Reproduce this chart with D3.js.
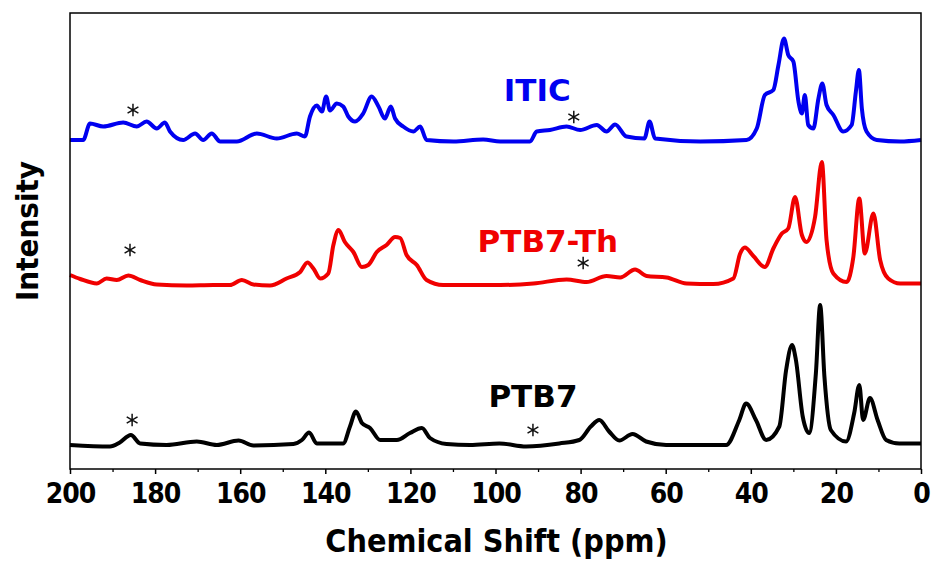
<!DOCTYPE html>
<html>
<head>
<meta charset="utf-8">
<script src="https://cdn.jsdelivr.net/npm/d3@7"></script>
<style>
  body { margin: 0; background: #fff; }
  svg { display: block; }
  .tick text { font-family: "DejaVu Sans Condensed", "DejaVu Sans", sans-serif; font-weight: bold; }
</style>
</head>
<body>
<div id="chart"></div>
<script>
// ppm values (x) and intensity above each trace's own baseline (arbitrary units)
var blueShift = [200, 196.9, 195.3, 192.2, 187.5, 184.3, 182, 179.6, 177.7, 176.5, 173.4, 170.6, 168.7, 166.7, 164.7, 160.8, 156.1, 151.4, 146.7, 144.8, 143.6, 142, 140.8, 139.8, 138.9, 137.3, 135.8, 134.6, 133, 131.1, 129.1, 127.5, 126, 124.6, 123.6, 121.7, 119.3, 117.7, 116.2, 109.9, 102.9, 98.9, 91.9, 90.3, 87.2, 83.3, 80.1, 76.2, 73.9, 71.9, 69.2, 65, 63.8, 62.5, 51.9, 41, 38.6, 36.7, 34.7, 33.5, 32.2, 31.2, 30, 28.8, 28, 27.3, 26.5, 25.3, 24.1, 23.2, 22.2, 20.6, 18.3, 16.3, 15.3, 14.6, 13.9, 12.8, 10.4, 4.9, 0];
var blueInt = [1.5, 1.5, 18, 15, 19, 15, 20, 13, 19, 10, 1.5, 8, 1.5, 8, 0, 0, 8, 3, 8, 5, 25, 36, 30, 45, 31, 38, 35, 25, 20, 28, 45, 35, 23, 35, 23, 15, 10, 15, 1.5, 0, 2, 0, 0, 10, 11.5, 15, 11.5, 16.5, 10, 17, 5, 3, 20, 3, 0, 1.5, 13, 46.5, 51.5, 76.5, 103, 86.5, 80, 40, 28, 46.5, 16.5, 13, 43, 58, 36.5, 26.5, 10, 16.5, 50, 71.5, 33, 10, 1.5, 0, 1.5];

var redShift = [200, 197.6, 193.7, 191.4, 189, 186.3, 183.5, 179.6, 172.6, 166.3, 162.4, 159.6, 156.9, 153, 149.1, 145.9, 144.2, 142.8, 141.2, 139.3, 138.1, 136.9, 135.4, 133.4, 131.4, 129.9, 127.9, 125.6, 123.6, 122.4, 120.9, 118.5, 116.2, 112.3, 106, 98.9, 91.1, 83.3, 78.6, 73.9, 70.7, 67.2, 64.5, 59.8, 55.1, 48.8, 44.1, 42.5, 41.4, 39.4, 36.7, 34.7, 32.7, 31.2, 29.6, 28, 26.9, 24.9, 23.3, 22.2, 20.6, 17.5, 15.9, 14.5, 13.2, 11.2, 9.6, 7.7, 4.9, 0];
var redInt = [10, 6, 1.5, 6.5, 5, 9.5, 5, 0.5, -0.5, 0, 0, 5, 0.5, -0.5, 6.5, 13, 22.5, 16.5, 6.5, 11.5, 40, 55, 43, 33, 18, 20, 33, 40, 48, 47, 30, 20, 5, 0, 0, 0, 1.5, 5.5, 3, 9, 7.5, 15.5, 9, 7.5, 1.5, 1, 6.5, 31.5, 37.5, 29, 18, 36.5, 51.5, 56.5, 88, 50, 43, 68, 123, 45, 11.5, 3, 28, 86.5, 31.5, 71.5, 25, 6.5, 1.5, 1.5];

var blackShift = [200, 190.6, 188.3, 185.7, 183.5, 177.3, 170.2, 165.5, 160.4, 156.9, 147.5, 145.5, 143.8, 142, 135.8, 134.2, 132.8, 131.4, 129.5, 127.1, 123.2, 120.1, 117.3, 115.4, 111.5, 106, 99.1, 92.8, 85, 80.3, 77.6, 75.6, 73.3, 70.9, 67.8, 64.6, 59.9, 45.8, 42.7, 41.1, 38.8, 36.4, 33.3, 31.7, 30.3, 29.4, 27.8, 26.3, 24.7, 23.7, 22.7, 21.2, 17.6, 15.7, 14.5, 13.6, 12, 10.2, 8.2, 5.1, 0];
var blackInt = [0, -1.5, 2.5, 10, 1.5, 0, 3.5, 0, 4.5, -0.5, 1, 5, 12.5, 1.5, 1.5, 18.5, 33.5, 22, 17, 5, 5, 12, 17, 7, 1, 0, 1.5, -1.5, 1.5, 5, 18.5, 25, 13.5, 4.5, 11, 3.5, 0, 0, 25, 41.5, 25, 5, 18.5, 75, 100, 85, 28.5, 12, 72, 140, 68.5, 15, 3.5, 32, 60, 25, 47, 25, 5, 1.5, 1.5];

var sampleNames = ["ITIC", "PTB7-Th", "PTB7"];
var sampleColors = ["#0000f0", "#f00000", "#000000"];
var sampleOffsets = [327.5, 184, 24];
var labelShift = [90.2, 87.7, 91.2];
var labelHeight = [41, 33, 38];
// spinning sidebands marked with *
var starShift = [[185.2, 81.6], [185.9, 79.4], [185.4, 91.2]];
var starHeight = [[31.5, 24.5], [35, 22], [25, 15]];

var majorTicks = [200, 180, 160, 140, 120, 100, 80, 60, 40, 20, 0];
var minorTicks = [190, 170, 150, 130, 110, 90, 70, 50, 30, 10];

var svgWidth = 936;
var svgHeight = 563;
var margin = { top: 13, right: 15, bottom: 94, left: 70 };
var width = svgWidth - margin.left - margin.right;
var height = svgHeight - margin.top - margin.bottom;

var svg = d3.select("#chart")
  .append("svg")
  .attr("width", svgWidth)
  .attr("height", svgHeight);

var chartGroup = svg.append("g")
  .attr("transform", `translate(${margin.left}, ${margin.top})`);

var xScale = d3.scaleLinear().domain([200, 0]).range([0, width]);
var yScale = d3.scaleLinear().domain([0, 456]).range([height, 0]);

var series = [
  { shift: blueShift, inten: blueInt },
  { shift: redShift, inten: redInt },
  { shift: blackShift, inten: blackInt }
];

series.forEach(function(s, i) {
  var pts = s.shift.map((p, j) => [p, s.inten[j] + sampleOffsets[i]]);
  var line = d3.line()
    .x(d => xScale(d[0]))
    .y(d => yScale(d[1]))
    .curve(d3.curveMonotoneX);
  chartGroup.append("path")
    .datum(pts)
    .attr("fill", "none")
    .attr("stroke", sampleColors[i])
    .attr("stroke-width", 4)
    .attr("stroke-linejoin", "round")
    .attr("d", line);

  chartGroup.append("text")
    .attr("x", xScale(labelShift[i]))
    .attr("y", yScale(sampleOffsets[i] + labelHeight[i]))
    .attr("text-anchor", "middle")
    .attr("font-family", "DejaVu Sans, sans-serif")
    .attr("font-weight", "bold")
    .attr("font-size", 31)
    .attr("fill", sampleColors[i])
    .text(sampleNames[i]);

  starShift[i].forEach(function(p, k) {
    chartGroup.append("path")
      .attr("transform", `translate(${xScale(p)}, ${yScale(sampleOffsets[i] + starHeight[i][k])})`)
      .attr("d", d3.symbol(d3.symbolAsterisk, 110)())
      .attr("fill", "none")
      .attr("stroke", "#111")
      .attr("stroke-width", 1.5);
  });
});

// frame
chartGroup.append("rect")
  .attr("width", width)
  .attr("height", height)
  .attr("fill", "none")
  .attr("stroke", "#000")
  .attr("stroke-width", 1.5);

// minor ticks
chartGroup.append("g")
  .attr("transform", `translate(0, ${height})`)
  .call(d3.axisBottom(xScale).tickValues(minorTicks).tickSize(3).tickFormat(""))
  .call(g => g.select(".domain").remove())
  .selectAll("line").attr("stroke-width", 1.3);

var bottomAxis = d3.axisBottom(xScale)
  .tickValues(majorTicks)
  .tickSize(5)
  .tickPadding(9);

var xAxis = chartGroup.append("g")
  .attr("transform", `translate(0, ${height})`)
  .call(bottomAxis);
xAxis.select(".domain").remove();
xAxis.selectAll("line").attr("stroke-width", 1.5);
xAxis.selectAll("text")
  .attr("font-size", 28)
  .attr("letter-spacing", -1)
  .attr("fill", "#000");

// axis titles
chartGroup.append("text")
  .attr("x", width / 2 + 1)
  .attr("y", height + 83)
  .attr("text-anchor", "middle")
  .attr("font-family", "DejaVu Sans Condensed, DejaVu Sans, sans-serif")
  .attr("font-weight", "bold")
  .attr("font-size", 32)
  .text("Chemical Shift (ppm)");

svg.append("text")
  .attr("transform", "translate(38, 231) rotate(-90)")
  .attr("text-anchor", "middle")
  .attr("font-family", "DejaVu Sans Condensed, DejaVu Sans, sans-serif")
  .attr("font-weight", "bold")
  .attr("font-size", 31)
  .text("Intensity");
</script>
</body>
</html>
